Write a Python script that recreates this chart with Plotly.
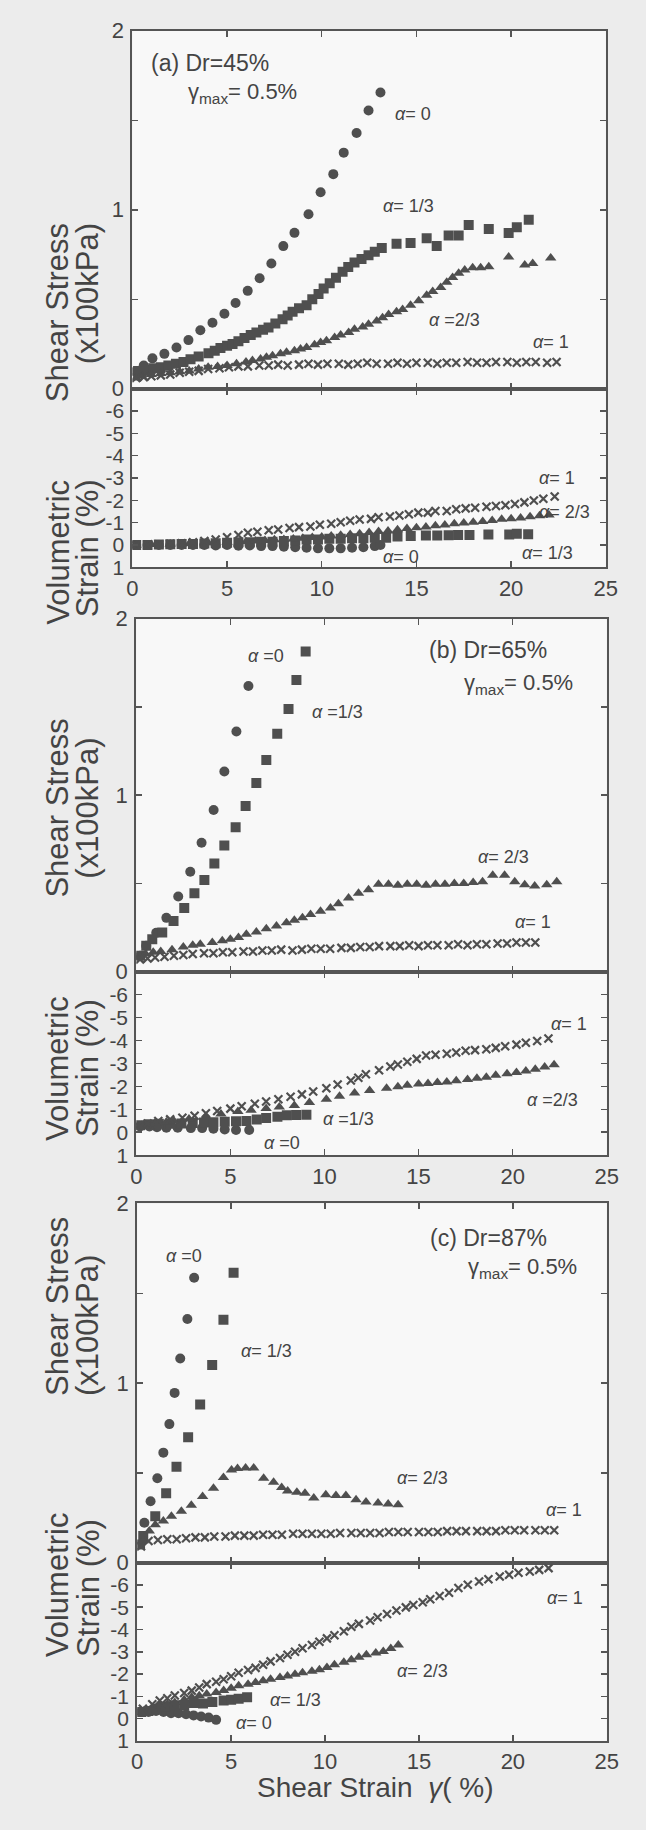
import plotly.graph_objects as go

W, H = 646, 1830

# ---------------- DATA ----------------
# Panel (a) Dr=45% : shear stress (x100kPa) vs shear strain (%)
a_s0_x = [0.2, 0.6, 1.06, 1.69, 2.33, 2.96, 3.59, 4.23, 4.86, 5.45, 6.09, 6.72, 7.34, 7.97, 8.56, 9.30, 9.94, 10.61, 11.16, 11.84, 12.47, 13.1]
a_s0_y = [0.10, 0.13, 0.17, 0.195, 0.231, 0.272, 0.327, 0.369, 0.419, 0.479, 0.547, 0.617, 0.700, 0.797, 0.871, 0.975, 1.098, 1.199, 1.319, 1.429, 1.554, 1.655]
a_s1_x = [0.3, 0.7, 1.1, 1.5, 1.9, 2.3, 2.7, 3.07, 3.5, 4.02, 4.35, 4.65, 5.0, 5.29, 5.6, 5.92, 6.25, 6.55, 6.9, 7.19, 7.55, 7.93, 8.2, 8.46, 8.8, 9.2, 9.5, 9.83, 10.1, 10.42, 10.75, 11.1, 11.4, 11.73, 12.1, 12.47, 12.8, 13.17, 13.95, 14.69, 15.54, 16.07, 16.70, 17.23, 17.76, 18.82, 19.87, 20.30, 20.93]
a_s1_y = [0.10, 0.105, 0.115, 0.12, 0.13, 0.14, 0.15, 0.165, 0.18, 0.198, 0.212, 0.228, 0.24, 0.25, 0.265, 0.283, 0.30, 0.314, 0.33, 0.342, 0.365, 0.388, 0.41, 0.43, 0.45, 0.466, 0.50, 0.529, 0.56, 0.59, 0.62, 0.654, 0.68, 0.705, 0.725, 0.746, 0.765, 0.786, 0.81, 0.815, 0.841, 0.797, 0.856, 0.856, 0.915, 0.893, 0.87, 0.902, 0.944]
a_s2_x = [0.2, 0.5, 1.0, 1.5, 2.0, 2.5, 3.0, 3.5, 4.0, 4.5, 5.0, 5.5, 6.0, 6.34, 6.77, 7.08, 7.40, 7.82, 8.14, 8.56, 8.88, 9.20, 9.62, 9.94, 10.25, 10.68, 11.0, 11.42, 11.73, 12.16, 12.47, 12.90, 13.21, 13.53, 13.95, 14.27, 14.69, 15.12, 15.54, 15.86, 16.28, 16.60, 16.91, 17.23, 17.55, 17.97, 18.39, 18.82, 19.87, 20.72, 21.14, 22.09]
a_s2_y = [0.06, 0.07, 0.08, 0.085, 0.09, 0.095, 0.10, 0.11, 0.12, 0.125, 0.13, 0.14, 0.15, 0.158, 0.167, 0.176, 0.185, 0.195, 0.204, 0.213, 0.222, 0.231, 0.246, 0.259, 0.268, 0.287, 0.301, 0.314, 0.332, 0.345, 0.360, 0.378, 0.397, 0.415, 0.430, 0.443, 0.466, 0.492, 0.522, 0.544, 0.566, 0.595, 0.621, 0.645, 0.663, 0.676, 0.676, 0.681, 0.736, 0.691, 0.700, 0.731]
a_s3_x = [0.2, 0.6, 1.0, 1.5, 2.0, 2.5, 3.0, 3.5, 4.0, 4.6, 5.1, 5.6, 6.1, 6.7, 7.2, 7.7, 8.2, 8.8, 9.3, 9.8, 10.3, 10.9, 11.4, 11.9, 12.4, 12.9, 13.5, 14.0, 14.5, 15.0, 15.6, 16.1, 16.6, 17.1, 17.7, 18.2, 18.7, 19.2, 19.8, 20.3, 20.8, 21.3, 21.9, 22.4]
a_s3_y = [0.06, 0.065, 0.07, 0.075, 0.08, 0.09, 0.095, 0.10, 0.11, 0.115, 0.12, 0.125, 0.125, 0.13, 0.13, 0.135, 0.13, 0.135, 0.14, 0.135, 0.14, 0.14, 0.135, 0.14, 0.145, 0.14, 0.14, 0.145, 0.14, 0.145, 0.145, 0.14, 0.145, 0.145, 0.15, 0.145, 0.145, 0.15, 0.15, 0.145, 0.15, 0.15, 0.145, 0.15]
# Panel (a) volumetric strain (%)
a_v0_x = [0.2, 0.8, 1.4, 2.0, 2.6, 3.2, 3.8, 4.4, 5.0, 5.6, 6.2, 6.8, 7.4, 8.0, 8.6, 9.2, 9.8, 10.4, 11.0, 11.6, 12.2, 12.8, 13.1]
a_v0_y = [0.0, 0.0, 0.0, 0.0, 0.0, 0.0, 0.0, 0.02, 0.0, 0.03, 0.02, 0.05, 0.05, 0.08, 0.1, 0.12, 0.15, 0.15, 0.15, 0.12, 0.1, 0.05, 0.0]
a_v1_x = [0.2, 0.8, 1.4, 2.0, 2.6, 3.2, 3.8, 4.4, 5.0, 5.6, 6.2, 6.8, 7.4, 8.0, 8.6, 9.2, 9.8, 10.4, 11.0, 11.6, 12.2, 12.8, 13.4, 14.0, 14.7, 15.5, 16.1, 16.7, 17.2, 17.8, 18.8, 19.9, 20.3, 20.9]
a_v1_y = [0.0, 0.0, -0.02, -0.03, -0.05, -0.05, -0.07, -0.08, -0.1, -0.12, -0.12, -0.15, -0.15, -0.18, -0.2, -0.25, -0.25, -0.28, -0.28, -0.3, -0.3, -0.32, -0.33, -0.38, -0.4, -0.42, -0.42, -0.44, -0.45, -0.45, -0.47, -0.47, -0.5, -0.48]
a_v2_x = [0.2, 1.0, 2.0, 3.0, 4.0, 5.0, 6.0, 6.5, 7.0, 7.5, 8.0, 8.5, 9.0, 9.5, 10.0, 10.5, 11.0, 11.5, 12.0, 12.5, 13.0, 13.5, 14.0, 14.5, 15.0, 15.5, 16.0, 16.5, 17.0, 17.5, 18.0, 18.5, 19.0, 19.5, 20.0, 20.5, 21.0, 21.5, 22.0]
a_v2_y = [0.0, -0.02, -0.05, -0.06, -0.1, -0.12, -0.14, -0.18, -0.2, -0.23, -0.25, -0.27, -0.3, -0.34, -0.36, -0.4, -0.44, -0.47, -0.5, -0.56, -0.6, -0.63, -0.68, -0.74, -0.77, -0.81, -0.86, -0.9, -0.95, -0.98, -1.02, -1.05, -1.1, -1.15, -1.18, -1.21, -1.26, -1.31, -1.34]
a_v3_x = [0.2, 0.8, 1.4, 2.0, 2.6, 3.2, 3.8, 4.4, 5.0, 5.6, 6.1, 6.6, 7.2, 7.7, 8.3, 8.8, 9.4, 9.9, 10.5, 11.0, 11.5, 12.0, 12.6, 13.0, 13.6, 14.1, 14.6, 15.1, 15.6, 16.0, 16.6, 17.1, 17.6, 18.1, 18.7, 19.2, 19.7, 20.2, 20.7, 21.2, 21.7, 22.3]
a_v3_y = [0.0, 0.0, -0.02, -0.05, -0.08, -0.12, -0.18, -0.25, -0.35, -0.45, -0.55, -0.59, -0.66, -0.69, -0.76, -0.80, -0.83, -0.91, -0.95, -1.02, -1.09, -1.14, -1.17, -1.24, -1.28, -1.32, -1.38, -1.45, -1.45, -1.52, -1.52, -1.60, -1.64, -1.67, -1.71, -1.75, -1.78, -1.84, -1.91, -1.99, -2.07, -2.17]

# Panel (b) Dr=65%
b_s0_x = [0.21, 0.53, 1.06, 1.60, 2.23, 2.87, 3.47, 4.11, 4.68, 5.32, 5.96]
b_s0_y = [0.09, 0.147, 0.22, 0.305, 0.426, 0.566, 0.730, 0.916, 1.134, 1.361, 1.618]
b_s1_x = [0.21, 0.53, 0.85, 1.38, 1.98, 2.55, 3.09, 3.62, 4.15, 4.68, 5.28, 5.81, 6.38, 6.91, 7.49, 8.09, 8.51, 9.0]
b_s1_y = [0.09, 0.147, 0.184, 0.222, 0.287, 0.361, 0.445, 0.520, 0.613, 0.715, 0.818, 0.939, 1.069, 1.199, 1.348, 1.488, 1.652, 1.814]
b_s2_x = [0.2, 0.5, 0.9, 1.3, 1.9, 2.5, 3.0, 3.40, 4.04, 4.57, 5.0, 5.43, 5.85, 6.38, 6.91, 7.45, 7.98, 8.40, 8.83, 9.26, 9.79, 10.32, 10.74, 11.28, 11.81, 12.34, 12.87, 13.4, 13.9, 14.4, 14.9, 15.4, 15.9, 16.4, 16.9, 17.4, 17.9, 18.40, 18.94, 19.57, 20.11, 20.64, 21.17, 21.81, 22.34]
b_s2_y = [0.08, 0.10, 0.11, 0.115, 0.125, 0.14, 0.15, 0.156, 0.166, 0.175, 0.184, 0.194, 0.212, 0.225, 0.244, 0.259, 0.277, 0.292, 0.305, 0.324, 0.343, 0.361, 0.385, 0.417, 0.445, 0.464, 0.495, 0.495, 0.49, 0.495, 0.495, 0.49, 0.495, 0.495, 0.50, 0.50, 0.505, 0.51, 0.547, 0.547, 0.51, 0.492, 0.486, 0.492, 0.51]
b_s3_x = [0.2, 0.6, 1.0, 1.5, 2.0, 2.5, 3.0, 3.6, 4.1, 4.6, 5.1, 5.7, 6.2, 6.7, 7.2, 7.7, 8.3, 8.8, 9.3, 9.8, 10.3, 10.9, 11.4, 11.9, 12.4, 12.9, 13.5, 14.0, 14.5, 15.0, 15.5, 16.0, 16.6, 17.1, 17.6, 18.1, 18.6, 19.2, 19.7, 20.2, 20.7, 21.2]
b_s3_y = [0.07, 0.075, 0.08, 0.085, 0.09, 0.095, 0.10, 0.105, 0.105, 0.11, 0.11, 0.115, 0.115, 0.12, 0.12, 0.125, 0.12, 0.125, 0.13, 0.13, 0.13, 0.135, 0.135, 0.14, 0.14, 0.145, 0.145, 0.145, 0.15, 0.145, 0.15, 0.15, 0.15, 0.155, 0.15, 0.155, 0.155, 0.16, 0.16, 0.165, 0.165, 0.165]
b_v0_x = [0.2, 0.7, 1.1, 1.6, 2.2, 2.9, 3.5, 4.1, 4.7, 5.3, 6.0]
b_v0_y = [-0.25, -0.25, -0.22, -0.2, -0.2, -0.18, -0.18, -0.15, -0.12, -0.1, -0.1]
b_v1_x = [0.2, 0.7, 1.2, 1.8, 2.4, 3.0, 3.6, 4.1, 4.7, 5.3, 5.85, 6.4, 6.9, 7.5, 8.0, 8.5, 9.04]
b_v1_y = [-0.3, -0.35, -0.37, -0.37, -0.38, -0.4, -0.42, -0.44, -0.46, -0.48, -0.49, -0.55, -0.62, -0.68, -0.74, -0.75, -0.76]
b_v2_x = [0.3, 1.0, 1.6, 2.0, 2.8, 3.7, 4.5, 5.4, 6.1, 6.9, 7.6, 8.4, 9.2, 10.1, 10.8, 11.6, 12.4, 13.3, 13.9, 14.4, 15.0, 15.5, 16.0, 16.5, 17.0, 17.6, 18.1, 18.6, 19.1, 19.7, 20.2, 20.7, 21.2, 21.7, 22.2]
b_v2_y = [-0.29, -0.38, -0.45, -0.49, -0.58, -0.69, -0.8, -0.9, -0.96, -1.03, -1.1, -1.17, -1.3, -1.44, -1.57, -1.71, -1.82, -1.92, -1.98, -2.05, -2.1, -2.12, -2.17, -2.19, -2.25, -2.3, -2.35, -2.4, -2.48, -2.55, -2.6, -2.67, -2.75, -2.85, -2.94]
b_v3_x = [0.1, 0.6, 1.17, 1.8, 2.45, 3.1, 3.7, 4.3, 5.0, 5.6, 6.3, 6.9, 7.55, 8.2, 8.8, 9.4, 10.1, 10.7, 11.4, 11.8, 12.2, 12.9, 13.5, 13.9, 14.4, 14.9, 15.4, 15.9, 16.5, 17.0, 17.5, 18.0, 18.6, 19.1, 19.6, 20.2, 20.7, 21.3, 21.9]
b_v3_y = [-0.29, -0.38, -0.49, -0.56, -0.63, -0.72, -0.83, -0.93, -1.03, -1.13, -1.24, -1.34, -1.44, -1.55, -1.65, -1.78, -1.92, -2.08, -2.26, -2.38, -2.53, -2.70, -2.87, -2.95, -3.07, -3.20, -3.35, -3.38, -3.42, -3.48, -3.55, -3.58, -3.62, -3.68, -3.75, -3.82, -3.90, -3.98, -4.09]

# Panel (c) Dr=87%
c_s0_x = [0.38, 0.71, 1.07, 1.39, 1.71, 1.99, 2.29, 2.67, 3.03]
c_s0_y = [0.222, 0.341, 0.469, 0.612, 0.771, 0.945, 1.137, 1.357, 1.586]
c_s1_x = [0.15, 0.32, 0.96, 1.54, 2.09, 2.71, 3.35, 3.99, 4.59, 5.13]
c_s1_y = [0.10, 0.148, 0.258, 0.386, 0.533, 0.698, 0.881, 1.101, 1.353, 1.614]
c_s2_x = [0.32, 0.64, 0.96, 1.39, 1.82, 2.35, 2.88, 3.48, 4.06, 4.59, 5.02, 5.34, 5.77, 6.20, 6.73, 7.26, 7.69, 8.01, 8.50, 8.93, 9.40, 10.04, 10.58, 11.11, 11.65, 12.18, 12.82, 13.36, 13.89]
c_s2_y = [0.121, 0.176, 0.21, 0.231, 0.258, 0.286, 0.319, 0.368, 0.414, 0.473, 0.515, 0.524, 0.527, 0.527, 0.469, 0.447, 0.418, 0.399, 0.392, 0.386, 0.359, 0.377, 0.374, 0.374, 0.350, 0.337, 0.332, 0.326, 0.322]
c_s3_x = [0.2, 0.6, 1.1, 1.6, 2.1, 2.6, 3.1, 3.6, 4.1, 4.7, 5.2, 5.7, 6.2, 6.7, 7.2, 7.7, 8.3, 8.8, 9.3, 9.8, 10.3, 10.8, 11.4, 11.9, 12.4, 12.9, 13.4, 13.9, 14.4, 15.0, 15.5, 16.0, 16.5, 17.0, 17.5, 18.1, 18.6, 19.1, 19.6, 20.1, 20.6, 21.2, 21.7, 22.2]
c_s3_y = [0.09, 0.12, 0.125, 0.13, 0.13, 0.135, 0.14, 0.14, 0.145, 0.145, 0.15, 0.15, 0.15, 0.155, 0.155, 0.155, 0.16, 0.16, 0.16, 0.16, 0.16, 0.165, 0.165, 0.165, 0.165, 0.165, 0.17, 0.17, 0.17, 0.17, 0.17, 0.17, 0.175, 0.175, 0.175, 0.175, 0.175, 0.175, 0.18, 0.18, 0.18, 0.18, 0.18, 0.18]
c_v0_x = [0.2, 0.6, 1.0, 1.4, 1.8, 2.2, 2.6, 3.0, 3.4, 3.8, 4.2]
c_v0_y = [-0.3, -0.3, -0.35, -0.3, -0.25, -0.25, -0.2, -0.15, -0.1, -0.05, 0.05]
c_v1_x = [0.2, 0.6, 1.0, 1.5, 2.0, 2.5, 3.0, 3.5, 4.0, 4.6, 5.0, 5.4, 5.85]
c_v1_y = [-0.3, -0.35, -0.45, -0.55, -0.6, -0.62, -0.7, -0.68, -0.75, -0.82, -0.85, -0.9, -0.96]
c_v2_x = [0.3, 0.8, 1.2, 1.6, 2.0, 2.5, 2.9, 3.3, 3.7, 4.2, 4.6, 5.0, 5.4, 5.9, 6.3, 6.7, 7.1, 7.6, 8.0, 8.4, 8.8, 9.3, 9.7, 10.1, 10.5, 11.0, 11.4, 11.8, 12.2, 12.7, 13.1, 13.5, 13.9]
c_v2_y = [-0.29, -0.45, -0.58, -0.65, -0.73, -0.85, -0.96, -1.03, -1.11, -1.18, -1.26, -1.37, -1.48, -1.55, -1.62, -1.7, -1.77, -1.85, -1.92, -1.99, -2.06, -2.13, -2.2, -2.3, -2.42, -2.53, -2.64, -2.75, -2.87, -2.95, -3.01, -3.15, -3.30]
c_v3_x = [0.3, 0.8, 1.2, 1.6, 2.0, 2.5, 2.9, 3.3, 3.7, 4.2, 4.6, 5.0, 5.4, 5.9, 6.3, 6.7, 7.1, 7.6, 8.0, 8.4, 8.8, 9.3, 9.7, 10.1, 10.5, 11.0, 11.4, 11.8, 12.4, 12.8, 13.3, 13.8, 14.3, 14.7, 15.2, 15.6, 16.1, 16.6, 17.1, 17.6, 18.2, 18.7, 19.3, 19.8, 20.3, 20.9, 21.4, 21.9]
c_v3_y = [-0.45, -0.65, -0.82, -0.92, -1.04, -1.15, -1.26, -1.4, -1.55, -1.66, -1.77, -1.9, -2.06, -2.18, -2.28, -2.42, -2.57, -2.72, -2.87, -3.0, -3.16, -3.3, -3.45, -3.6, -3.74, -3.92, -4.12, -4.25, -4.40, -4.55, -4.69, -4.85, -4.99, -5.1, -5.22, -5.35, -5.5, -5.65, -5.86, -6.0, -6.15, -6.25, -6.37, -6.45, -6.54, -6.6, -6.67, -6.75]

x_ticks = [0, 5, 10, 15, 20, 25]
shear_ticks = [0, 1, 2]
vol_ticks = [-6, -5, -4, -3, -2, -1, 0, 1]
vol_ticktext = ["-6", "-5", "-4", "-3", "-2", "-1", "0", "1"]

panel_labels = ["(a) Dr=45%", "(b) Dr=65%", "(c) Dr=87%"]
gamma_label = "γ<sub>max</sub>= 0.5%"
ytitle_shear = ["Shear Stress", "(x100kPa)"]
ytitle_vol = ["Volumetric", "Strain (%)"]
xtitle = "Shear Strain  <i>γ</i>( %)"

# ---------------- LAYOUT GEOMETRY (pixels) ----------------
def fy(px):
    return 1 - px / H

def fx(px):
    return px / W

# (x_left, x_right, shear_top, shear_bottom, vol_bottom)
geom = [(130, 617, 19, 382, 563), (134, 618, 615, 973, 1159), (135, 618, 1208, 1572, 1753)]
ytitle_centers = [(212, 472), (807, 1071), (1405, 1670)]

INK = "#4f4f4f"
FONT = "Liberation Sans, Arial, Helvetica, sans-serif"

fig = go.Figure()

panels = [
    [(a_s0_x, a_s0_y), (a_s1_x, a_s1_y), (a_s2_x, a_s2_y), (a_s3_x, a_s3_y)],
    [(b_s0_x, b_s0_y), (b_s1_x, b_s1_y), (b_s2_x, b_s2_y), (b_s3_x, b_s3_y)],
    [(c_s0_x, c_s0_y), (c_s1_x, c_s1_y), (c_s2_x, c_s2_y), (c_s3_x, c_s3_y)],
]
vpanels = [
    [(a_v0_x, a_v0_y), (a_v1_x, a_v1_y), (a_v2_x, a_v2_y), (a_v3_x, a_v3_y)],
    [(b_v0_x, b_v0_y), (b_v1_x, b_v1_y), (b_v2_x, b_v2_y), (b_v3_x, b_v3_y)],
    [(c_v0_x, c_v0_y), (c_v1_x, c_v1_y), (c_v2_x, c_v2_y), (c_v3_x, c_v3_y)],
]

def marker_for(k):
    if k == 0:
        return dict(symbol="circle", size=10, color=INK)
    if k == 1:
        return dict(symbol="square", size=10, color=INK)
    if k == 2:
        return dict(symbol="triangle-up", size=10, color=INK)
    return dict(symbol="x-thin", size=8, color=INK, line=dict(width=2.2, color=INK))

for p in range(3):
    ns = 2 * p + 1
    nv = 2 * p + 2
    for k, (xs, ys) in enumerate(panels[p]):
        fig.add_trace(go.Scatter(x=xs, y=ys, mode="markers", marker=marker_for(k),
                                 xaxis=f"x{ns}", yaxis=f"y{ns}", showlegend=False,
                                 hoverinfo="skip"))
    for k, (xs, ys) in enumerate(vpanels[p]):
        fig.add_trace(go.Scatter(x=xs, y=ys, mode="markers", marker=marker_for(k),
                                 xaxis=f"x{nv}", yaxis=f"y{nv}", showlegend=False,
                                 hoverinfo="skip"))

axis_common = dict(showline=True, linecolor="#555", linewidth=2, mirror="ticks",
                   ticks="inside", ticklen=6, tickwidth=1.5, tickcolor="#555",
                   showgrid=False, zeroline=False,
                   tickfont=dict(family=FONT, size=22, color="#444"))

layout = {}
for p, (xl, xr, st, sb, vb) in enumerate(geom):
    ns = 2 * p + 1
    nv = 2 * p + 2
    layout[f"xaxis{ns}"] = dict(axis_common, domain=[fx(xl), fx(xr)], range=[0, 25],
                                tickvals=x_ticks, showticklabels=False, anchor=f"y{ns}")
    layout[f"yaxis{ns}"] = dict(axis_common, domain=[fy(sb), fy(st)], range=[0, 2],
                                tickvals=shear_ticks, anchor=f"x{ns}", ticklabelstandoff=2,
                                minor=dict(tickvals=[0.5, 1.5], ticks="inside", ticklen=6,
                                           tickwidth=1.5, tickcolor="#555", showgrid=False))
    layout[f"xaxis{nv}"] = dict(axis_common, domain=[fx(xl), fx(xr)], range=[0, 25],
                                tickvals=x_ticks, showticklabels=True, anchor=f"y{nv}",
                                ticklabelstandoff=0)
    layout[f"yaxis{nv}"] = dict(axis_common, domain=[fy(vb), fy(sb)], range=[1, -7],
                                tickvals=vol_ticks, ticktext=vol_ticktext,
                                anchor=f"x{nv}", ticklabelstandoff=2,
                                tickfont=dict(family=FONT, size=21, color="#444"))

annotations = []
def ann(text, x, y, xref, yref, size, **kw):
    d = dict(text=text, x=x, y=y, xref=xref, yref=yref, showarrow=False,
             font=dict(family=FONT, size=size, color="#444"))
    d.update(kw)
    annotations.append(d)

# y titles
for p in range(3):
    cs, cv = ytitle_centers[p]
    ann(ytitle_shear[0], fx(33), fy(cs), "paper", "paper", 31, textangle=-90)
    ann(ytitle_shear[1], fx(64), fy(cs), "paper", "paper", 31, textangle=-90)
    ann(ytitle_vol[0], fx(33), fy(cv), "paper", "paper", 31, textangle=-90)
    ann(ytitle_vol[1], fx(64), fy(cv), "paper", "paper", 31, textangle=-90)

ann(xtitle, fx(380), fy(1817), "paper", "paper", 28, borderpad=0)

# panel labels
ann(panel_labels[0], 4.1, 1.82, "x1", "y1", 23)
ann(gamma_label, 5.8, 1.65, "x1", "y1", 22)
ann(panel_labels[1], 18.7, 1.82, "x3", "y3", 23)
ann(gamma_label, 20.3, 1.63, "x3", "y3", 22)
ann(panel_labels[2], 18.7, 1.81, "x5", "y5", 23)
ann(gamma_label, 20.5, 1.64, "x5", "y5", 22)

A = "<i>α</i>"
alpha_labels = [
    (A + "= 0", 14.8, 1.537, "x1", "y1"),
    (A + "= 1/3", 14.6, 1.02, "x1", "y1"),
    (A + " =2/3", 17.0, 0.386, "x1", "y1"),
    (A + "= 1", 22.1, 0.259, "x1", "y1"),
    (A + "= 1", 22.4, -2.98, "x2", "y2"),
    (A + "= 2/3", 22.8, -1.47, "x2", "y2"),
    (A + "= 1/3", 21.9, 0.35, "x2", "y2"),
    (A + "= 0", 14.2, 0.56, "x2", "y2"),
    (A + " =0", 6.9, 1.79, "x3", "y3"),
    (A + " =1/3", 10.7, 1.47, "x3", "y3"),
    (A + "= 2/3", 19.5, 0.65, "x3", "y3"),
    (A + "= 1", 21.1, 0.28, "x3", "y3"),
    (A + "= 1", 23.0, -4.7, "x4", "y4"),
    (A + " =2/3", 22.1, -1.39, "x4", "y4"),
    (A + " =1/3", 11.3, -0.57, "x4", "y4"),
    (A + " =0", 7.75, 0.45, "x4", "y4"),
    (A + " =0", 2.5, 1.71, "x5", "y5"),
    (A + "= 1/3", 6.9, 1.18, "x5", "y5"),
    (A + "= 2/3", 15.2, 0.47, "x5", "y5"),
    (A + "= 1", 22.7, 0.29, "x5", "y5"),
    (A + "= 1", 22.8, -5.4, "x6", "y6"),
    (A + "= 2/3", 15.2, -2.15, "x6", "y6"),
    (A + "= 1/3", 8.4, -0.83, "x6", "y6"),
    (A + "= 0", 6.2, 0.2, "x6", "y6"),
]
for t, x, y, xr, yr in alpha_labels:
    ann(t, x, y, xr, yr, 18)

fig.update_layout(**layout)
fig.update_layout(width=W, height=H, margin=dict(l=0, r=0, t=0, b=0),
                  paper_bgcolor="#ececec", plot_bgcolor="#f8f8f8",
                  annotations=annotations, showlegend=False, hovermode=False,
                  font=dict(family=FONT, color="#444"))

fig.write_html("out.html", config={"displayModeBar": False, "staticPlot": True},
               post_script="document.body.style.margin='0';document.body.style.padding='0';document.body.style.overflow='hidden';")
